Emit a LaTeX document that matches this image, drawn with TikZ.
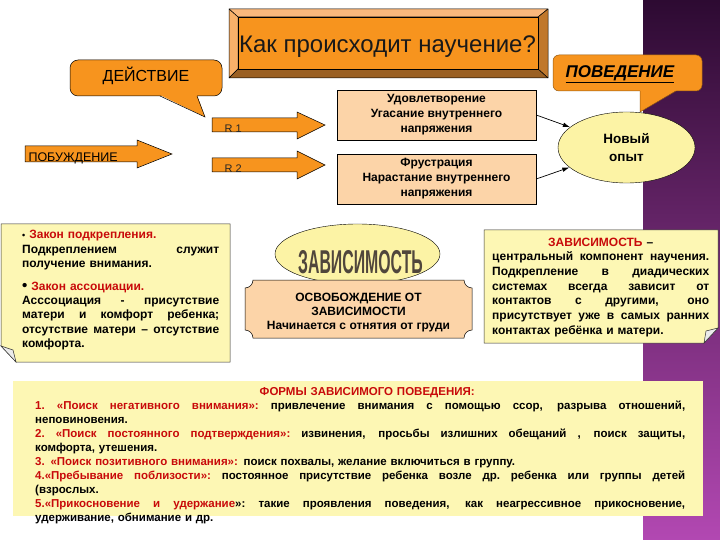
\documentclass[tikz,border=0pt]{standalone}
\usepackage{fontspec}
\setmainfont{Liberation Sans}
\usepackage{tikz}
\usetikzlibrary{arrows.meta,shapes.geometric}

\definecolor{boxorange}{RGB}{247,148,30}
\definecolor{peach}{RGB}{252,212,168}
\definecolor{notey}{RGB}{253,247,180}
\definecolor{ovaly}{RGB}{252,243,165}
\definecolor{depred}{RGB}{200,10,10}
\definecolor{bandtop}{RGB}{45,10,50}
\definecolor{bandmid}{RGB}{105,35,105}
\definecolor{bandbot}{RGB}{178,72,178}
\definecolor{bevlight}{RGB}{249,184,124}
\definecolor{bevdark}{RGB}{192,120,44}
\definecolor{wordface}{RGB}{80,70,60}

% one line of a text block: justified, flush left, centred
\newcommand\jline[1]{\hbox to\hsize{\spaceskip=.3em plus 1fil\relax\xspaceskip=\spaceskip\relax #1}}
\newcommand\fline[1]{\hbox to\hsize{#1\hfil}}
\newcommand\mline[1]{\hbox to\hsize{\hfil#1\hfil}}

\begin{document}
\begin{tikzpicture}[
  x=1pt, y=-1pt,
  bevelface/.style={draw=black, line width=0.5pt, line join=round},
  speech/.style={fill=boxorange, draw=black, line width=0.5pt},
  blockarrow/.style={fill=boxorange, draw=black, line width=0.5pt},
  result/.style={draw, fill=peach, minimum width=199pt, minimum height=50pt,
    align=center, inner sep=1pt, font=\fontsize{12}{15}\selectfont\bfseries},
  link/.style={-{Latex[length=2.5mm,width=1.6mm]}, line width=0.7pt},
  note/.style={fill=notey, draw=black!80, line width=0.5pt},
  fold/.style={fill=black!8, draw=black!80, line width=0.5pt},
  notetext/.style={anchor=base west, inner sep=0pt,
    font=\fontsize{12}{14.3}\selectfont\bfseries}
]
  \useasboundingbox (0,0) rectangle (720,540);
  \fill[white] (0,0) rectangle (720,540);
  \shade[top color=bandtop, middle color=bandmid, bottom color=bandbot] (643,0) rectangle (720,540);

  % title plate
  \filldraw[bevelface, fill=bevlight] (229,9) -- (548,9) -- (538,17) -- (238,17) -- cycle;
  \filldraw[bevelface, fill=bevlight!80!boxorange] (229,9) -- (238,17) -- (238,69) -- (229,78) -- cycle;
  \filldraw[bevelface, fill=bevdark] (548,9) -- (548,78) -- (538,69) -- (538,17) -- cycle;
  \filldraw[bevelface, fill=bevdark!80!black] (229,78) -- (548,78) -- (538,69) -- (238,69) -- cycle;
  \filldraw[bevelface, fill=boxorange] (238,17) rectangle (538,69);
  \node[anchor=base, font=\fontsize{24}{24}\selectfont, text=black!90] (title) at (387.5,53) {Как происходит научение?};

  % callouts
  \filldraw[speech, rounded corners=8pt] (70,60) rectangle (222,96);
  \fill[boxorange] (160,95) -- (205,117) -- (197,95) -- cycle;
  \draw[line width=0.5pt] (160,96) -- (205,117) -- (197,96);
  \node[anchor=base, font=\fontsize{16}{16}\selectfont] (act) at (146,81.5) {ДЕЙСТВИЕ};

  \filldraw[speech, draw=boxorange!60!black, rounded corners=6pt] (553,55) rectangle (702,91);
  \fill[boxorange] (640,90) -- (640,112) -- (677,90) -- cycle;
  \draw[boxorange!60!black, line width=0.5pt] (640,91) -- (640,112) -- (676,91);
  \node[anchor=base, font=\fontsize{17}{17}\selectfont\bfseries\itshape] (behav) at (620,77.5) {\underline{ПОВЕДЕНИЕ}};

  % stimulus and reactions
  \filldraw[blockarrow] (25,146) -- (137,146) -- (137,140) -- (172,154) -- (137,168) -- (137,162) -- (25,162) -- cycle;
  \node[anchor=base west, font=\fontsize{12.5}{12.5}\selectfont] (urge) at (25,161.5) {ПОБУЖДЕНИЕ};
  \filldraw[blockarrow] (212,118) -- (297,118) -- (297,112) -- (325,125) -- (297,139) -- (297,132) -- (212,132) -- cycle;
  \node[anchor=base west, font=\fontsize{11}{11}\selectfont, text=black!85] (r1) at (221,133) {R 1};
  \filldraw[blockarrow] (212,158) -- (297,158) -- (297,151) -- (325,165) -- (297,179) -- (297,172) -- (212,172) -- cycle;
  \node[anchor=base west, font=\fontsize{11}{11}\selectfont, text=black!85] (r2) at (221,173) {R 2};

  \node[result] (sat) at (436.5,115) {Удовлетворение\\Угасание внутреннего\\напряжения};
  \node[result] (frus) at (436.5,179) {Фрустрация\\Нарастание внутреннего\\напряжения};
  \node[ellipse, draw, fill=ovaly, minimum width=137pt, minimum height=71pt, align=center, inner sep=0pt,
    font=\fontsize{13.5}{18}\selectfont\bfseries] (exp) at (626.5,147.5) {Новый\\опыт};
  \draw[link] (sat.east) -- (exp);
  \draw[link] (frus.east) -- (exp);

  % laws note
  \draw[note] (1,224) -- (230,224) -- (230,362) -- (16,362) -- (1,346) -- cycle;
  \draw[fold] (1,346) -- (13,350) -- (16,362) -- cycle;
  \node[notetext, text width=197pt] (laws) at (22,239) {%
    \fline{{\fontsize{9}{9}\selectfont\textbullet}\ {\color{depred}Закон подкрепления.}}
    \jline{Подкреплением служит}
    \fline{получение внимания.}
    \vskip 8.5pt
    \fline{{\fontsize{15}{15}\selectfont\textbullet}\ {\color{depred}Закон ассоциации.}}
    \jline{Асссоциация - присутствие}
    \jline{матери и комфорт ребенка;}
    \jline{отсутствие матери – отсутствие}
    \fline{комфорта.}};

  % dependency
  \node[ellipse, draw, fill=ovaly, minimum width=165pt, minimum height=60pt] (depoval) at (357.5,254) {};
  \node[anchor=base, inner sep=0pt, text=wordface] (depword) at (360.5,273)
    {\scalebox{0.48}[1]{\fontsize{33}{33}\selectfont\bfseries ЗАВИСИМОСТЬ}};
  \filldraw[draw=black, line width=0.5pt, fill=peach] (253,280) -- (464,280)
    arc[start angle=180, end angle=90, radius=8] -- (472,330)
    arc[start angle=270, end angle=180, radius=8] -- (253,338)
    arc[start angle=360, end angle=270, radius=8] -- (245,288)
    arc[start angle=90, end angle=0, radius=8] -- cycle;
  \node[align=center, font=\fontsize{12}{14}\selectfont\bfseries] (release) at (358.5,313)
    {ОСВОБОЖДЕНИЕ ОТ\\ЗАВИСИМОСТИ\\Начинается с отнятия от груди};

  % central note
  \draw[note] (484,230) -- (718,230) -- (718,328) -- (704,343) -- (484,343) -- cycle;
  \draw[fold] (718,328) -- (706,331) -- (704,343) -- cycle;
  \node[notetext, text width=217pt, font=\fontsize{12}{14.7}\selectfont\bfseries] (centre) at (492,246) {%
    \mline{{\color{depred}ЗАВИСИМОСТЬ} –}
    \jline{центральный компонент научения.}
    \jline{Подкрепление в диадических}
    \jline{системах всегда зависит от}
    \jline{контактов с другими, оно}
    \jline{присутствует уже в самых ранних}
    \fline{контактах ребёнка и матери.}};

  % forms of dependent behaviour
  \fill[notey] (13,381) rectangle (703,516);
  \node[notetext, text width=650pt, font=\fontsize{11.5}{14}\selectfont\bfseries] (forms) at (35,395) {%
    \mline{\hskip14pt{\color{depred}ФОРМЫ ЗАВИСИМОГО ПОВЕДЕНИЯ:}}
    \jline{{\color{depred}1. «Поиск негативного внимания»:} привлечение внимания с помощью ссор, разрыва отношений,}
    \fline{неповиновения.}
    \jline{{\color{depred}2. «Поиск постоянного подтверждения»:} извинения, просьбы излишних обещаний , поиск защиты,}
    \fline{комфорта, утешения.}
    \fline{{\color{depred}3. «Поиск позитивного внимания»:} поиск похвалы, желание включиться в группу.}
    \jline{{\color{depred}4.«Пребывание поблизости»:} постоянное присутствие ребенка возле др. ребенка или группы детей}
    \fline{(взрослых.}
    \jline{{\color{depred}5.«Прикосновение и удержание}»: такие проявления поведения, как неагрессивное прикосновение,}
    \fline{удерживание, обнимание и др.}};
\end{tikzpicture}
\end{document}
